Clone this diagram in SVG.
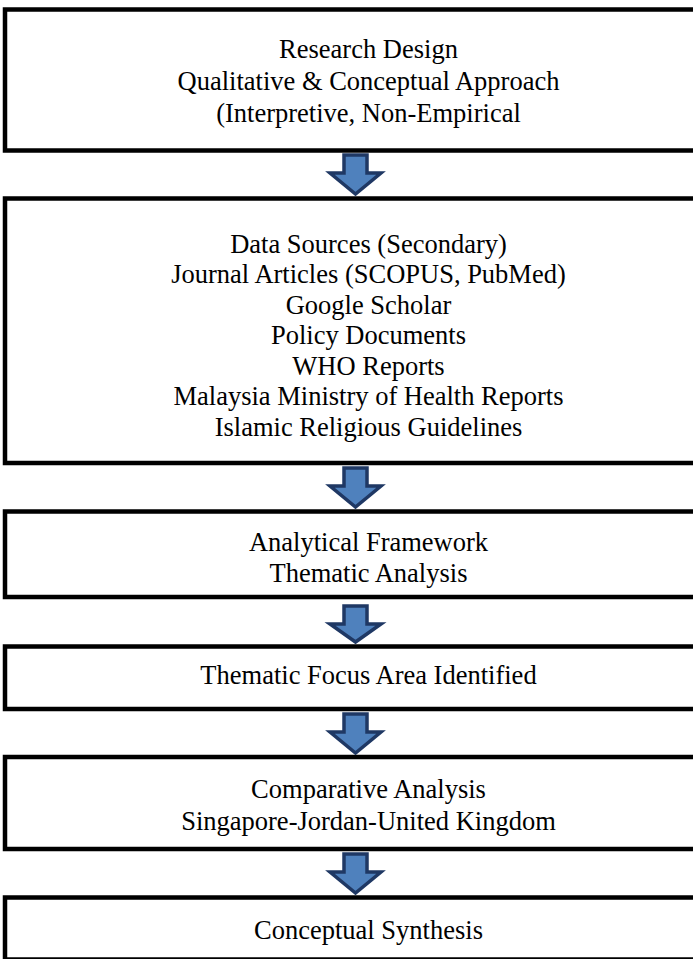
<svg xmlns="http://www.w3.org/2000/svg" width="693" height="959" viewBox="0 0 693 959">
<style>
.box{fill:#ffffff;stroke:#000000;stroke-width:4.5}
.t{font-family:"Liberation Serif","Times New Roman",serif;font-size:26.5px;fill:#000000;text-anchor:middle}
.arr{fill:#4F81BD;stroke:#1F3864;stroke-width:3.5;stroke-linejoin:miter}
</style>
<rect width="693" height="959" fill="#ffffff"/>
<g id="node1">
<rect class="box" x="5" y="9.5" width="700" height="141"/>
<text class="t" x="368.5" y="58">Research Design</text>
<text class="t" x="368.5" y="90">Qualitative &amp; Conceptual Approach</text>
<text class="t" x="368.5" y="122">(Interpretive, Non-Empirical</text>
</g>
<g id="node2">
<rect class="box" x="5" y="198.5" width="700" height="264.5"/>
<text class="t" x="368.5" y="252.5">Data Sources (Secondary)</text>
<text class="t" x="368.5" y="283">Journal Articles (SCOPUS, PubMed)</text>
<text class="t" x="368.5" y="313.5">Google Scholar</text>
<text class="t" x="368.5" y="344">Policy Documents</text>
<text class="t" x="368.5" y="374.5">WHO Reports</text>
<text class="t" x="368.5" y="405">Malaysia Ministry of Health Reports</text>
<text class="t" x="368.5" y="435.5">Islamic Religious Guidelines</text>
</g>
<g id="node3">
<rect class="box" x="5" y="511.5" width="700" height="85.5"/>
<text class="t" x="368.5" y="551">Analytical Framework</text>
<text class="t" x="368.5" y="582">Thematic Analysis</text>
</g>
<g id="node4">
<rect class="box" x="5" y="646.5" width="700" height="62.5"/>
<text class="t" x="368.5" y="684">Thematic Focus Area Identified</text>
</g>
<g id="node5">
<rect class="box" x="5" y="757" width="700" height="92"/>
<text class="t" x="368.5" y="798">Comparative Analysis</text>
<text class="t" x="368.5" y="830">Singapore-Jordan-United Kingdom</text>
</g>
<g id="node6">
<rect class="box" x="5" y="897.5" width="700" height="62"/>
<text class="t" x="368.5" y="939">Conceptual Synthesis</text>
</g>
<g id="connectors">
<path class="arr" d="M344,155 H367 V173 H381 L355.5,194 L330,173 H344 Z"/>
<path class="arr" d="M344,468 H367 V486 H381 L355.5,507 L330,486 H344 Z"/>
<path class="arr" d="M344,606 H367 V624 H381 L355.5,642 L330,624 H344 Z"/>
<path class="arr" d="M344,714 H367 V732 H381 L355.5,753 L330,732 H344 Z"/>
<path class="arr" d="M344,854 H367 V872 H381 L355.5,893 L330,872 H344 Z"/>
</g>
</svg>
